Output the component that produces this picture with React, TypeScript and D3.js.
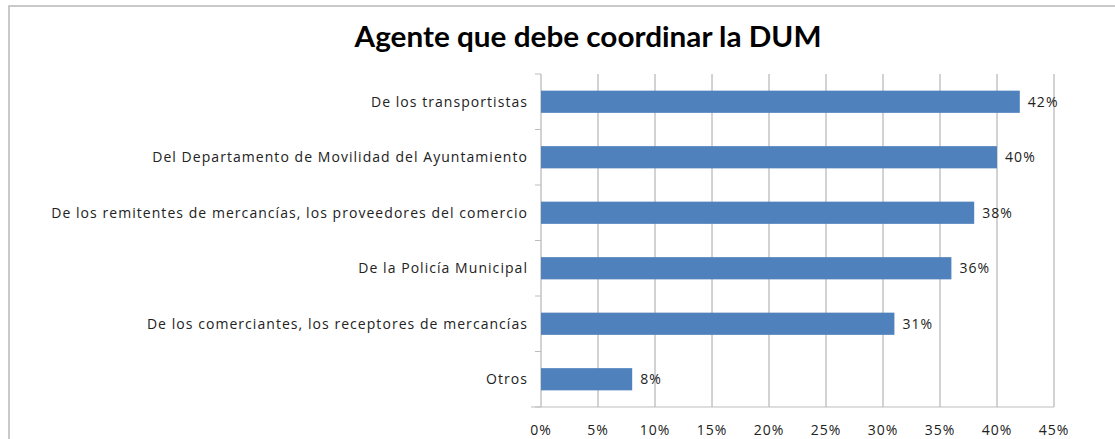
import React from "react";
import * as d3 from "d3";

const categories = [
  "De los transportistas",
  "Del Departamento de Movilidad del Ayuntamiento",
  "De los remitentes de mercancías, los proveedores del comercio",
  "De la Policía Municipal",
  "De los comerciantes, los receptores de mercancías",
  "Otros",
];
const values = [42, 40, 38, 36, 31, 8];
const xTicks = [0, 5, 10, 15, 20, 25, 30, 35, 40, 45];
const title = "Agente que debe coordinar la DUM";

export default function App() {
  const W = 1115;
  const H = 439;
  const x = d3.scaleLinear().domain([0, 45]).range([541, 1054]);
  const y = d3.scaleBand<string>().domain(categories).range([74, 407]).paddingInner(0.6).paddingOuter(0.3);
  const step = y.step();
  const font = "'Open Sans', 'DejaVu Sans', sans-serif";
  const ls = 1.05;
  const fs = 14;
  return (
    <svg width={W} height={H} style={{ position: "absolute", left: 0, top: 0 }}>
      <rect x={0} y={0} width={W} height={H} fill="#fff" />
      <rect x={9} y={6} width={W + 20} height={H + 20} fill="#fff" stroke="#b8b8b8" strokeWidth={1.5} />
      <text x={588} y={47} textAnchor="middle" fontFamily="Lato, 'Open Sans', sans-serif" fontWeight="bold" fontSize={28} fill="#000" textLength={467} lengthAdjust="spacingAndGlyphs">
        {title}
      </text>
      {xTicks.map((t) => (
        <line key={"g" + t} x1={x(t)} x2={x(t)} y1={74} y2={407} stroke="#a6a6a6" strokeWidth={1} />
      ))}
      <line x1={531} x2={x(45)} y1={407} y2={407} stroke="#bdbdbd" strokeWidth={1} />
      {d3.range(categories.length + 1).map((i) => (
        <line key={"t" + i} x1={535} x2={541} y1={74 + i * step} y2={74 + i * step} stroke="#bdbdbd" strokeWidth={1} />
      ))}
      {categories.map((c, i) => (
        <g key={c}>
          <rect x={x(0)} y={y(c)} width={x(values[i]) - x(0)} height={y.bandwidth()} fill="#4F81BD" />
          <text x={528} y={(y(c) as number) + y.bandwidth() / 2} dy="0.35em" textAnchor="end" fontFamily={font} fontSize={fs} letterSpacing={ls} fill="#222">
            {c}
          </text>
          <text x={x(values[i]) + 8} y={(y(c) as number) + y.bandwidth() / 2} dy="0.35em" fontFamily={font} fontSize={fs} letterSpacing={ls} fill="#222">
            {values[i]}%
          </text>
        </g>
      ))}
      {xTicks.map((t) => (
        <text key={"l" + t} x={x(t)} y={430} dy="0.35em" textAnchor="middle" fontFamily={font} fontSize={fs} letterSpacing={ls} fill="#222">
          {t}%
        </text>
      ))}
    </svg>
  );
}
